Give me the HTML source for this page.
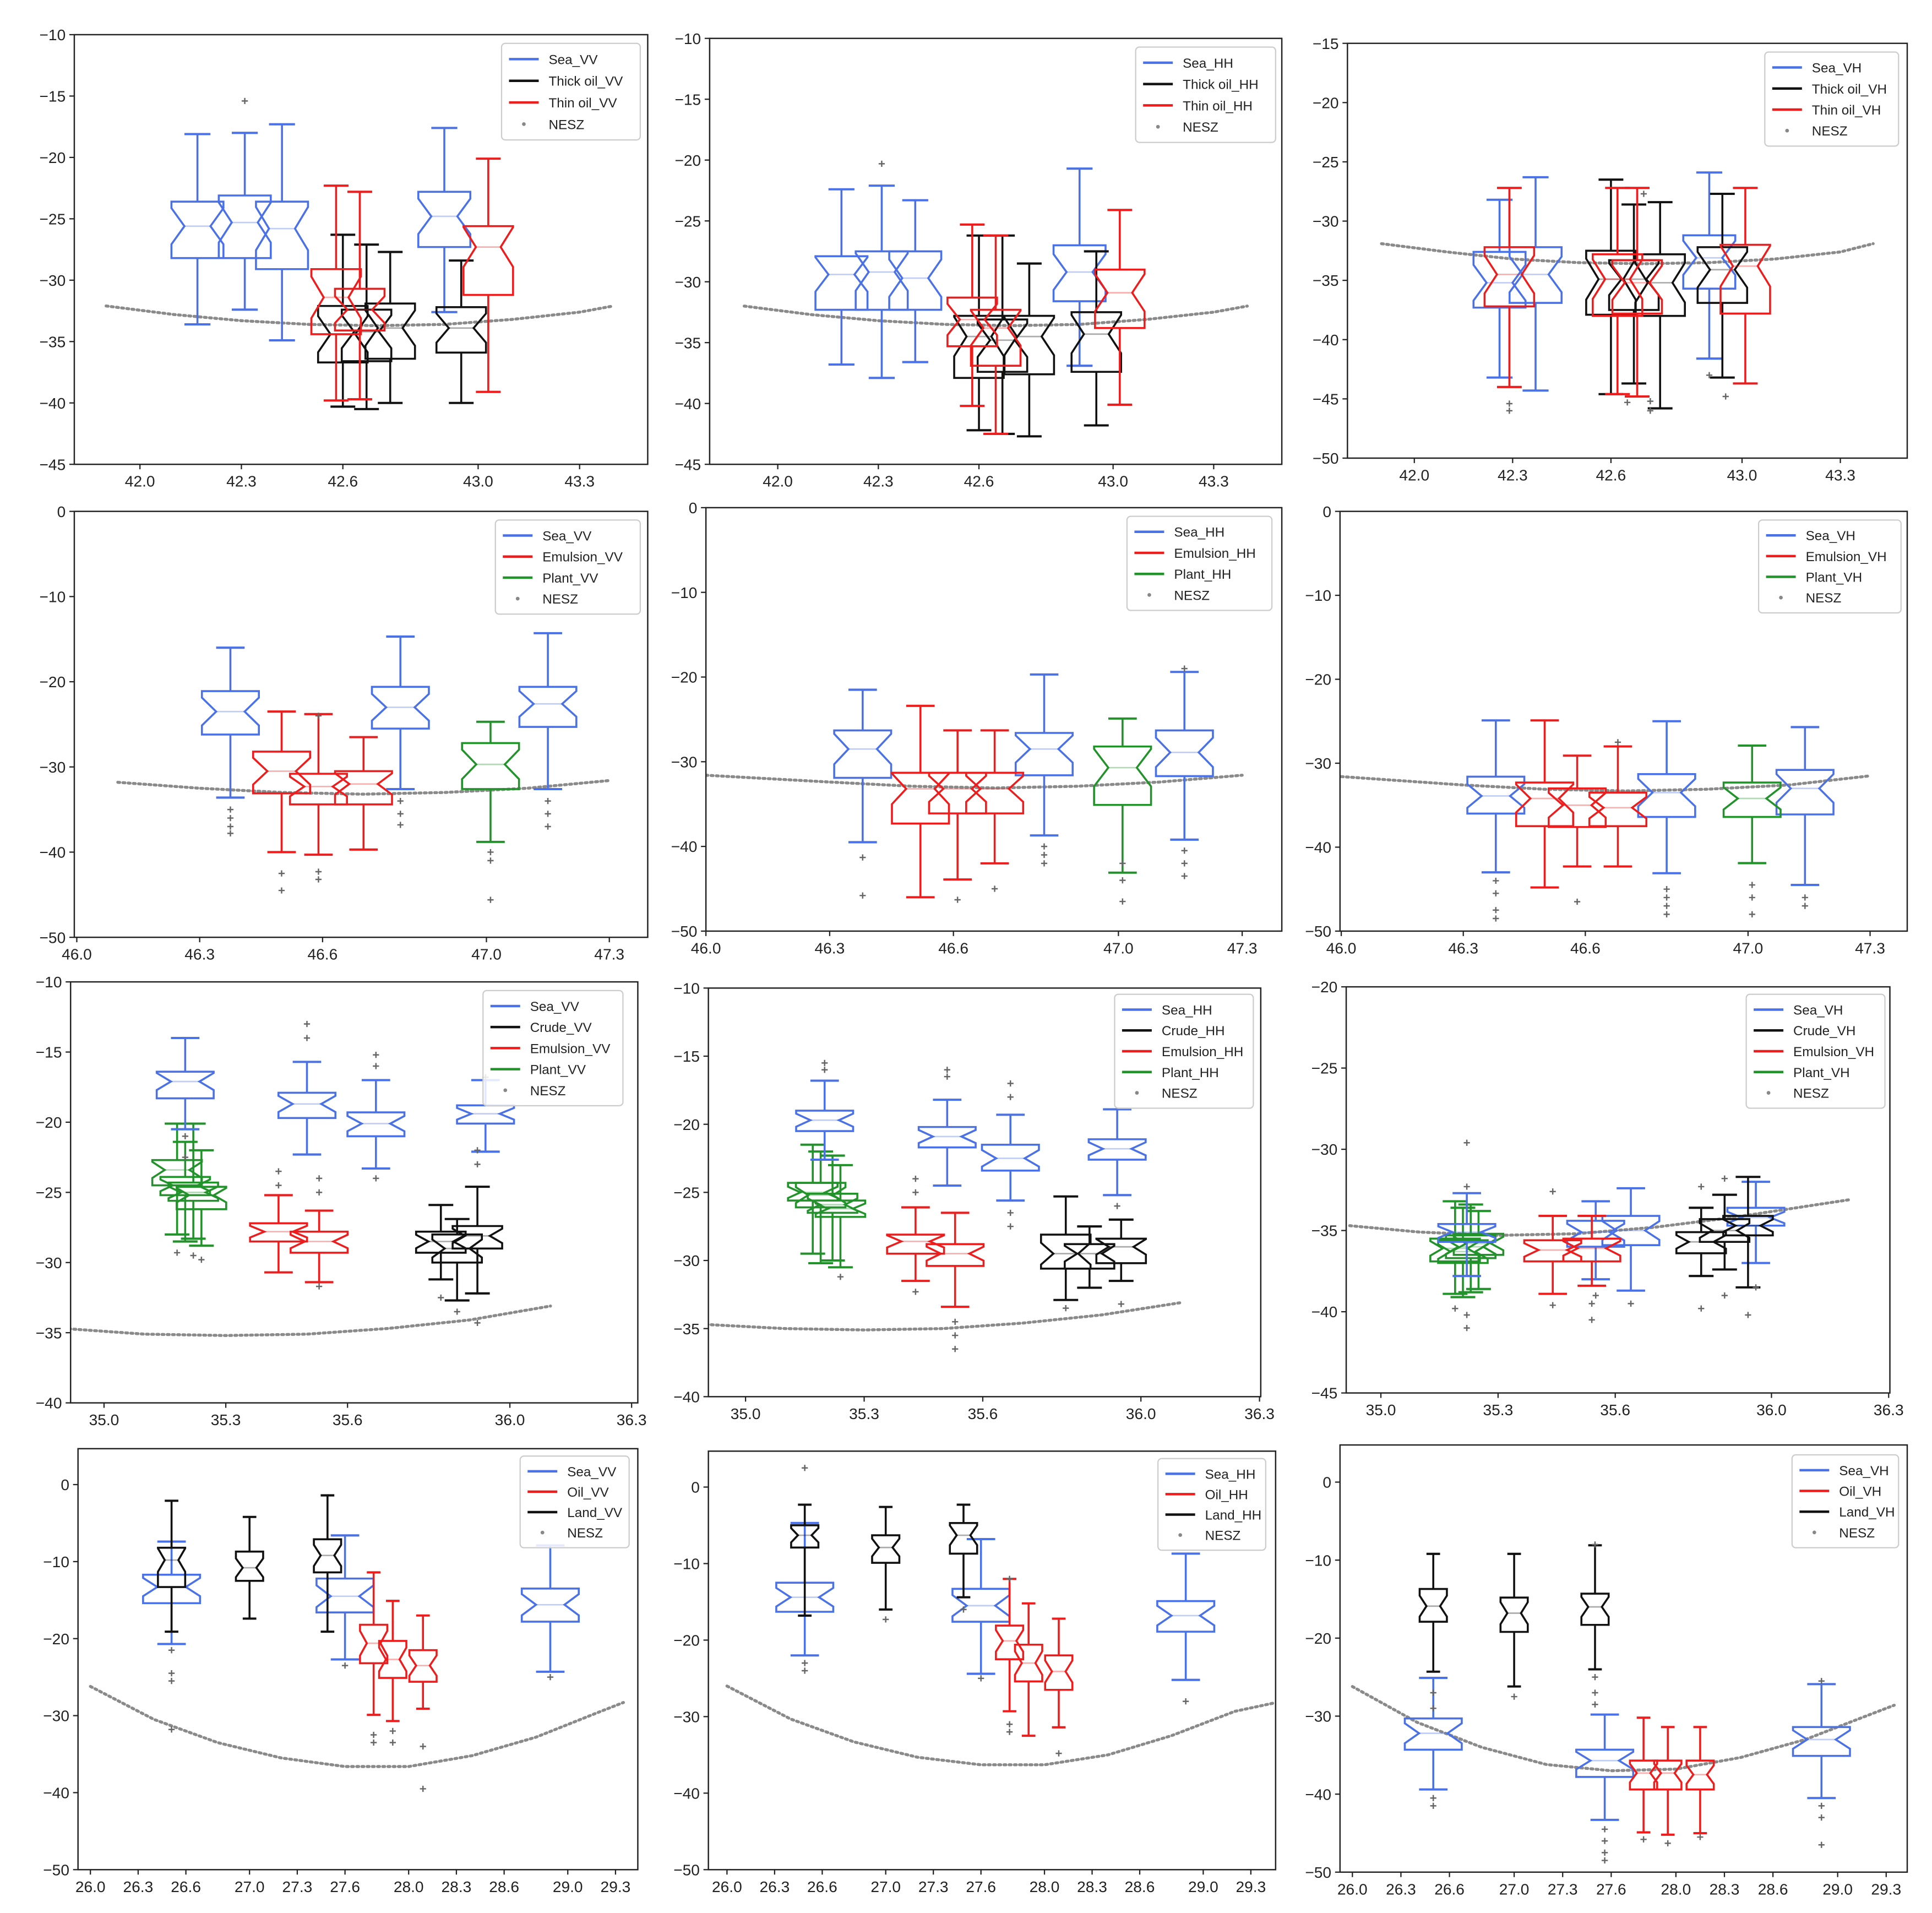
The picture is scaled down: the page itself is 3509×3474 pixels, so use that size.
<!DOCTYPE html>
<html><head><meta charset="utf-8"><title>Notched boxplots of backscatter by incidence angle</title>
<style>
html,body{margin:0;padding:0;background:#fff;}
svg{display:block;font-family:"Liberation Sans",sans-serif;}
</style></head>
<body>
<svg id="fig" xmlns="http://www.w3.org/2000/svg" width="3509" height="3474" viewBox="0 0 1560 1545" preserveAspectRatio="none">
<rect width="1560" height="1545" fill="#fff"/>
</svg>
<script>
// ---------- DATA (box stats: [x, whiskerLow, q1, median, q3, whiskerHigh]) ----------
const p1Sea=[[42.17,-33.6,-28.2,-25.6,-23.6,-18.1],[42.31,-32.4,-28.2,-25.3,-23.1,-18.0],[42.42,-34.9,-29.1,-25.8,-23.6,-17.3],[42.90,-32.6,-27.3,-24.8,-22.8,-17.6]];
const p1Thick=[[42.60,-40.3,-36.7,-34.4,-32.1,-26.3],[42.67,-40.5,-36.6,-34.2,-32.4,-27.1],[42.74,-40.0,-36.4,-33.9,-31.9,-27.7],[42.95,-40.0,-35.9,-33.9,-32.2,-28.4]];
const p1Thin=[[42.58,-39.8,-34.4,-31.4,-29.1,-22.3],[42.65,-39.7,-34.1,-32.4,-30.7,-22.8],[43.03,-39.1,-31.2,-27.3,-25.6,-20.1]];
const p1NeszX=[41.9,42.1,42.3,42.5,42.7,42.9,43.1,43.3,43.4];
const p1NeszY=[-32.1,-32.8,-33.3,-33.6,-33.7,-33.6,-33.2,-32.6,-32.1];
const p1Fliers=[[42.31,-15.4]];

const p2Sea=[[42.19,-36.8,-32.3,-29.4,-27.9,-22.4],[42.31,-37.9,-32.3,-29.2,-27.5,-22.1],[42.41,-36.6,-32.3,-29.7,-27.5,-23.3],[42.90,-36.9,-31.6,-29.2,-27.0,-20.7]];
const p2Thick=[[42.60,-42.2,-37.9,-34.5,-32.8,-26.2],[42.67,-42.5,-37.4,-34.8,-33.1,-26.2],[42.75,-42.7,-37.6,-34.5,-32.8,-28.5],[42.95,-41.8,-37.4,-34.3,-32.5,-27.5]];
const p2Thin=[[42.58,-40.2,-35.3,-33.1,-31.3,-25.3],[42.65,-42.5,-36.9,-33.8,-32.3,-26.2],[43.02,-40.1,-33.8,-30.9,-29.0,-24.1]];
const p2NeszX=[41.9,42.1,42.3,42.5,42.7,42.9,43.1,43.3,43.4];
const p2NeszY=[-32.0,-32.7,-33.2,-33.5,-33.6,-33.5,-33.1,-32.5,-32.0];
const p2Fliers=[[42.31,-20.3]];

const p3Sea=[[42.26,-43.2,-37.3,-35.2,-32.6,-28.2],[42.37,-44.3,-36.9,-34.5,-32.2,-26.3],[42.90,-41.6,-35.7,-33.1,-31.2,-25.9]];
const p3Thick=[[42.60,-44.6,-37.9,-34.9,-32.5,-26.5],[42.67,-43.7,-37.5,-34.9,-33.3,-28.6],[42.75,-45.8,-38.0,-35.2,-32.8,-28.4],[42.94,-43.2,-36.9,-34.1,-32.2,-27.7]];
const p3Thin=[[42.29,-44.0,-37.2,-34.5,-32.2,-27.2],[42.62,-44.6,-38.0,-34.9,-32.8,-27.2],[42.68,-44.8,-37.8,-35.2,-33.3,-27.2],[43.01,-43.7,-37.8,-33.8,-32.0,-27.2]];
const p3NeszX=[41.9,42.1,42.3,42.5,42.7,42.9,43.1,43.3,43.4];
const p3NeszY=[-31.9,-32.6,-33.2,-33.5,-33.6,-33.5,-33.2,-32.6,-31.9];
const p3Fliers=[[42.29,-45.4],[42.29,-46.0],[42.65,-45.3],[42.72,-46.0],[42.72,-45.2],[42.90,-43.0],[42.95,-44.8],[42.70,-27.7]];

const p4Sea=[[46.375,-33.6,-26.2,-23.5,-21.1,-16.0],[46.79,-32.6,-25.5,-23.0,-20.6,-14.7],[47.15,-32.6,-25.3,-22.6,-20.6,-14.3]];
const p4Emul=[[46.50,-40.0,-33.1,-30.5,-28.2,-23.5],[46.59,-40.3,-34.4,-32.3,-30.8,-23.8],[46.70,-39.7,-34.4,-32.0,-30.5,-26.5]];
const p4Plant=[[47.01,-38.8,-32.6,-29.7,-27.2,-24.7]];
const p4NeszX=[46.1,46.3,46.5,46.7,46.9,47.1,47.3];
const p4NeszY=[-31.8,-32.5,-33.0,-33.2,-33.0,-32.5,-31.6];
const p4Fliers=[[46.375,-35],[46.375,-36],[46.375,-37],[46.375,-37.8],[46.50,-42.5],[46.50,-44.5],[46.59,-42.3],[46.59,-43.2],[46.59,-24.0],[46.79,-34],[46.79,-35.5],[46.79,-36.8],[47.01,-40],[47.01,-41],[47.01,-45.6],[47.15,-34],[47.15,-35.5],[47.15,-37]];

const p5Sea=[[46.38,-39.5,-31.9,-28.5,-26.3,-21.5],[46.82,-38.7,-31.6,-28.5,-26.6,-19.7],[47.16,-39.2,-31.7,-28.9,-26.3,-19.4]];
const p5Emul=[[46.52,-46.0,-37.3,-33.2,-31.3,-23.4],[46.61,-43.9,-36.1,-33.2,-31.3,-26.3],[46.70,-42.0,-36.1,-33.2,-31.3,-26.3]];
const p5Plant=[[47.01,-43.1,-35.1,-30.7,-28.2,-24.9]];
const p5NeszX=[46.0,46.3,46.5,46.7,46.9,47.1,47.3];
const p5NeszY=[-31.6,-32.4,-32.9,-33.1,-32.9,-32.4,-31.6];
const p5Fliers=[[46.38,-41.3],[46.38,-45.8],[46.61,-46.3],[46.70,-45],[46.82,-40],[46.82,-41],[46.82,-42],[47.01,-42],[47.01,-44],[47.01,-46.5],[47.16,-40.5],[47.16,-42],[47.16,-43.5],[47.16,-19]];

const p6Sea=[[46.38,-43.0,-36.0,-33.9,-31.6,-24.9],[46.80,-43.1,-36.4,-33.5,-31.3,-25.0],[47.14,-44.5,-36.1,-33.0,-30.8,-25.7]];
const p6Emul=[[46.50,-44.8,-37.5,-34.2,-32.3,-24.9],[46.58,-42.3,-37.6,-35.0,-33.0,-29.1],[46.68,-42.3,-37.5,-35.3,-33.5,-28.0]];
const p6Plant=[[47.01,-41.9,-36.4,-34.2,-32.3,-27.9]];
const p6NeszX=[46.0,46.3,46.5,46.7,46.9,47.1,47.3];
const p6NeszY=[-31.6,-32.6,-33.1,-33.3,-33.1,-32.6,-31.5];
const p6Fliers=[[46.38,-44],[46.38,-45.5],[46.38,-47.5],[46.38,-48.5],[46.58,-46.5],[46.80,-45],[46.80,-46],[46.80,-47],[46.80,-48],[47.01,-44.5],[47.01,-46],[47.01,-48],[47.14,-46],[47.14,-47],[46.68,-27.5]];

const p7Sea=[[35.20,-20.5,-18.3,-17.1,-16.4,-14.0],[35.50,-22.3,-19.7,-18.7,-17.9,-15.7],[35.67,-23.3,-21.0,-20.1,-19.3,-17.0],[35.94,-22.1,-20.1,-19.4,-18.8,-17.0]];
const p7Crude=[[35.83,-31.2,-29.3,-28.5,-27.8,-25.9],[35.87,-32.7,-30.0,-29.0,-28.0,-26.9],[35.92,-32.2,-29.0,-28.1,-27.4,-24.6]];
const p7Emul=[[35.43,-30.7,-28.5,-27.8,-27.2,-25.2],[35.53,-31.4,-29.3,-28.5,-27.8,-26.3]];
const p7Plant=[[35.18,-28.0,-24.5,-23.4,-22.7,-20.1],[35.20,-28.5,-25.2,-24.5,-23.9,-21.4],[35.22,-28.3,-25.6,-25.0,-24.3,-20.1],[35.24,-28.8,-26.2,-25.2,-24.6,-22.0]];
const p7NeszX=[34.9,35.1,35.3,35.5,35.7,35.9,36.1];
const p7NeszY=[-34.7,-35.1,-35.2,-35.1,-34.7,-34.1,-33.1];
const p7Fliers=[[35.20,-21],[35.20,-22.5],[35.22,-29.5],[35.24,-29.8],[35.43,-23.5],[35.43,-24.5],[35.50,-13],[35.50,-14],[35.53,-24],[35.53,-25],[35.53,-31.7],[35.67,-15.2],[35.67,-16],[35.67,-24],[35.83,-32.5],[35.87,-33.5],[35.92,-22],[35.92,-23],[35.92,-34.3],[35.94,-16.8],[35.18,-29.3]];

const p8Sea=[[35.20,-22.6,-20.5,-19.7,-19.0,-16.8],[35.51,-24.5,-21.7,-20.9,-20.2,-18.2],[35.67,-25.6,-23.4,-22.5,-21.5,-19.3],[35.94,-25.2,-22.6,-21.8,-21.1,-18.9]];
const p8Crude=[[35.81,-32.9,-30.6,-29.5,-28.1,-25.3],[35.87,-32.0,-30.6,-29.5,-28.8,-27.5],[35.95,-31.5,-30.2,-29.0,-28.4,-27.0]];
const p8Emul=[[35.43,-31.5,-29.5,-28.6,-28.1,-26.1],[35.53,-33.4,-30.4,-29.5,-28.8,-26.5]];
const p8Plant=[[35.17,-29.5,-25.6,-25.0,-24.3,-21.5],[35.19,-30.2,-26.1,-25.2,-24.3,-22.0],[35.22,-30.0,-26.5,-25.9,-25.1,-22.3],[35.24,-30.5,-26.8,-26.2,-25.6,-23.0]];
const p8NeszX=[34.9,35.1,35.3,35.5,35.7,35.9,36.1];
const p8NeszY=[-34.7,-35.0,-35.1,-35.0,-34.6,-34.0,-33.1];
const p8Fliers=[[35.20,-16],[35.20,-15.5],[35.24,-31.2],[35.43,-24],[35.43,-25],[35.43,-32.3],[35.51,-16],[35.51,-16.5],[35.53,-34.5],[35.53,-35.5],[35.53,-36.5],[35.67,-17],[35.67,-18],[35.67,-26.5],[35.67,-27.5],[35.94,-26],[35.81,-33.5],[35.95,-33.2]];

const p9Sea=[[35.22,-37.8,-35.7,-35.1,-34.6,-32.7],[35.55,-38.0,-36.0,-35.1,-34.4,-33.2],[35.64,-38.7,-35.9,-35.0,-34.1,-32.4],[35.96,-37.0,-34.7,-34.2,-33.6,-32.0]];
const p9Crude=[[35.82,-37.8,-36.4,-35.7,-35.1,-33.6],[35.88,-37.4,-35.7,-35.0,-34.3,-32.8],[35.94,-38.5,-35.3,-34.7,-34.1,-31.7]];
const p9Emul=[[35.44,-38.9,-36.9,-36.2,-35.6,-34.1],[35.54,-38.4,-36.9,-36.1,-35.5,-34.1]];
const p9Plant=[[35.19,-38.9,-36.9,-36.1,-35.5,-33.2],[35.21,-39.1,-37.0,-36.3,-35.6,-33.6],[35.23,-38.8,-36.7,-36.0,-35.3,-33.4],[35.25,-38.6,-36.5,-35.8,-35.2,-33.8]];
const p9NeszX=[34.92,35.1,35.3,35.5,35.7,35.9,36.2];
const p9NeszY=[-34.7,-35.1,-35.3,-35.2,-34.8,-34.2,-33.1];
const p9Fliers=[[35.22,-29.6],[35.22,-32.3],[35.22,-40.2],[35.22,-41],[35.19,-39.8],[35.44,-32.6],[35.44,-39.6],[35.54,-39.5],[35.54,-40.5],[35.55,-39],[35.64,-39.5],[35.82,-32.3],[35.82,-39.8],[35.88,-31.8],[35.88,-39],[35.94,-40.2],[35.96,-38.5]];

const p10Sea=[[26.51,-20.7,-15.4,-13.3,-11.7,-7.4],[27.60,-22.7,-16.6,-14.5,-12.2,-6.6],[28.89,-24.3,-17.8,-15.6,-13.5,-7.9]];
const p10Oil=[[27.78,-29.9,-23.2,-20.6,-18.2,-11.4],[27.90,-30.7,-25.1,-22.7,-20.3,-15.1],[28.09,-29.1,-25.6,-23.5,-21.5,-17.0]];
const p10Land=[[26.51,-19.1,-13.3,-9.8,-8.2,-2.1],[27.00,-17.4,-12.5,-10.8,-8.7,-4.2],[27.49,-19.1,-11.4,-9.2,-7.1,-1.4]];
const p10NeszX=[26.0,26.4,26.8,27.2,27.6,28.0,28.4,28.8,29.2,29.35];
const p10NeszY=[-26.2,-30.5,-33.5,-35.5,-36.6,-36.6,-35.2,-32.8,-29.5,-28.3];
const p10Fliers=[[26.51,-21.5],[26.51,-24.5],[26.51,-25.5],[26.51,-31.8],[27.60,-23.5],[27.78,-32.5],[27.78,-33.5],[27.90,-32],[27.90,-33.5],[28.09,-34],[28.09,-39.5],[28.89,-25]];

const p11Sea=[[26.49,-22.0,-16.3,-14.4,-12.5,-4.7],[27.60,-24.4,-17.6,-15.5,-13.3,-6.8],[28.89,-25.2,-18.9,-16.8,-14.9,-8.7]];
const p11Oil=[[27.78,-29.3,-22.5,-20.1,-18.1,-12.0],[27.90,-32.5,-25.4,-23.0,-20.6,-15.2],[28.09,-31.4,-26.5,-24.1,-22.0,-17.2]];
const p11Land=[[26.49,-16.8,-7.9,-6.3,-5.0,-2.3],[27.00,-16.0,-9.9,-7.9,-6.3,-2.6],[27.49,-14.4,-8.7,-6.3,-4.7,-2.3]];
const p11NeszX=[26.0,26.4,26.8,27.2,27.6,28.0,28.4,28.8,29.2,29.45];
const p11NeszY=[-26.0,-30.3,-33.3,-35.3,-36.3,-36.3,-35.0,-32.5,-29.3,-28.2];
const p11Fliers=[[26.49,2.5],[26.49,-23],[26.49,-24],[27.00,-17.3],[27.49,-16],[27.60,-25],[27.78,-12],[27.78,-31],[27.78,-32],[28.09,-34.8],[28.89,-28]];

const p12Sea=[[26.50,-39.4,-34.3,-32.2,-30.3,-25.1],[27.56,-43.3,-37.8,-35.7,-34.3,-29.8],[28.90,-40.5,-35.1,-33.0,-31.4,-25.9]];
const p12Oil=[[27.80,-44.9,-39.4,-37.3,-35.7,-30.2],[27.95,-45.2,-39.4,-37.3,-35.7,-31.4],[28.15,-45.0,-39.4,-37.5,-35.7,-31.4]];
const p12Land=[[26.50,-24.3,-17.9,-15.9,-13.7,-9.2],[27.00,-26.2,-19.2,-16.8,-14.8,-9.2],[27.50,-24.0,-18.3,-16.0,-14.3,-8.1]];
const p12NeszX=[26.0,26.4,26.8,27.2,27.6,28.0,28.4,28.8,29.2,29.35];
const p12NeszY=[-26.2,-30.8,-34.0,-36.2,-37.0,-36.8,-35.3,-33.0,-29.8,-28.6];
const p12Fliers=[[26.50,-27],[26.50,-29],[26.50,-40.5],[26.50,-41.5],[27.00,-27.5],[27.50,-8],[27.50,-25],[27.50,-27],[27.50,-28.5],[27.56,-44.5],[27.56,-46],[27.56,-47.5],[27.56,-48.5],[27.80,-45.8],[27.95,-46.3],[28.15,-45.5],[28.90,-25.5],[28.90,-41.5],[28.90,-43],[28.90,-46.5]];

// tick labels
const xTicksRow1=[42.0,42.3,42.6,43.0,43.3];
const xTicksRow2=[46.0,46.3,46.6,47.0,47.3];
const xTicksRow3=[35.0,35.3,35.6,36.0,36.3];
const xTicksRow4=[26.0,26.3,26.6,27.0,27.3,27.6,28.0,28.3,28.6,29.0,29.3];
const yTicksA=[-10,-15,-20,-25,-30,-35,-40,-45];
const yTicksB=[-15,-20,-25,-30,-35,-40,-45,-50];
const yTicksC=[0,-10,-20,-30,-40,-50];
const yTicksD=[-10,-15,-20,-25,-30,-35,-40];
const yTicksE=[-20,-25,-30,-35,-40,-45];

// ---------- STYLE ----------
const COL={B:'#4a72e6',K:'#111111',R:'#ee1d1d',G:'#22922a'};
const NS='http://www.w3.org/2000/svg';
const svg=document.getElementById('fig');
function mk(tag,attrs,parent){const e=document.createElementNS(NS,tag);for(const k in attrs)e.setAttribute(k,attrs[k]);(parent||svg).appendChild(e);return e;}

const panels=[
 {id:'p1',f:[60,28,523,375],xm:[42.0,113,43.3,468],ym:[-10,28,-45,375],xt:xTicksRow1,yt:yTicksA,
  series:[[p1Sea,'B',42],[p1Thick,'K',40],[p1Thin,'R',40]],nx:p1NeszX,ny:p1NeszY,fl:p1Fliers,
  lg:[405,35,112,78],labels:['Sea_VV','Thick oil_VV','Thin oil_VV','NESZ'],lc:['B','K','R']},
 {id:'p2',f:[573,31,1035,375],xm:[42.0,628,43.3,980],ym:[-10,31,-45,375],xt:xTicksRow1,yt:yTicksA,
  series:[[p2Sea,'B',42],[p2Thick,'K',40],[p2Thin,'R',40]],nx:p2NeszX,ny:p2NeszY,fl:p2Fliers,
  lg:[917,38,113,77],labels:['Sea_HH','Thick oil_HH','Thin oil_HH','NESZ'],lc:['B','K','R']},
 {id:'p3',f:[1088,35,1540,370],xm:[42.0,1142,43.3,1486],ym:[-15,35,-50,370],xt:xTicksRow1,yt:yTicksB,
  series:[[p3Sea,'B',42],[p3Thick,'K',40],[p3Thin,'R',40]],nx:p3NeszX,ny:p3NeszY,fl:p3Fliers,
  lg:[1425,42,108,76],labels:['Sea_VH','Thick oil_VH','Thin oil_VH','NESZ'],lc:['B','K','R']},
 {id:'p4',f:[60,413,523,757],xm:[46.0,62,47.3,492],ym:[0,413,-50,757],xt:xTicksRow2,yt:yTicksC,
  series:[[p4Sea,'B',46],[p4Emul,'R',46],[p4Plant,'G',46]],nx:p4NeszX,ny:p4NeszY,fl:p4Fliers,
  lg:[400,420,117,76],labels:['Sea_VV','Emulsion_VV','Plant_VV','NESZ'],lc:['B','R','G']},
 {id:'p5',f:[570,410,1035,752],xm:[46.0,570,47.3,1003],ym:[0,410,-50,752],xt:xTicksRow2,yt:yTicksC,
  series:[[p5Sea,'B',46],[p5Emul,'R',46],[p5Plant,'G',46]],nx:p5NeszX,ny:p5NeszY,fl:p5Fliers,
  lg:[910,417,117,76],labels:['Sea_HH','Emulsion_HH','Plant_HH','NESZ'],lc:['B','R','G']},
 {id:'p6',f:[1082,413,1540,752],xm:[46.0,1083,47.3,1510],ym:[0,413,-50,752],xt:xTicksRow2,yt:yTicksC,
  series:[[p6Sea,'B',46],[p6Emul,'R',46],[p6Plant,'G',46]],nx:p6NeszX,ny:p6NeszY,fl:p6Fliers,
  lg:[1420,420,115,75],labels:['Sea_VH','Emulsion_VH','Plant_VH','NESZ'],lc:['B','R','G']},
 {id:'p7',f:[57,793,515,1133],xm:[35.0,84,36.3,510],ym:[-10,793,-40,1133],xt:xTicksRow3,yt:yTicksD,
  series:[[p7Plant,'G',40],[p7Sea,'B',46],[p7Emul,'R',46],[p7Crude,'K',40]],nx:p7NeszX,ny:p7NeszY,fl:p7Fliers,
  lg:[390,800,113,93],labels:['Sea_VV','Crude_VV','Emulsion_VV','Plant_VV','NESZ'],lc:['B','K','R','G']},
 {id:'p8',f:[572,798,1018,1128],xm:[35.0,602,36.3,1017],ym:[-10,798,-40,1128],xt:xTicksRow3,yt:yTicksD,
  series:[[p8Plant,'G',40],[p8Sea,'B',46],[p8Emul,'R',46],[p8Crude,'K',40]],nx:p8NeszX,ny:p8NeszY,fl:p8Fliers,
  lg:[900,803,112,92],labels:['Sea_HH','Crude_HH','Emulsion_HH','Plant_HH','NESZ'],lc:['B','K','R','G']},
 {id:'p9',f:[1087,797,1526,1125],xm:[35.0,1115,36.3,1525],ym:[-20,797,-45,1125],xt:xTicksRow3,yt:yTicksE,
  series:[[p9Plant,'G',40],[p9Sea,'B',46],[p9Emul,'R',46],[p9Crude,'K',40]],nx:p9NeszX,ny:p9NeszY,fl:p9Fliers,
  lg:[1410,803,112,92],labels:['Sea_VH','Crude_VH','Emulsion_VH','Plant_VH','NESZ'],lc:['B','K','R','G']},
 {id:'p10',f:[63,1170,515,1510],xm:[26.0,73,29.3,497],ym:[0,1199,-50,1510],xt:xTicksRow4,yt:yTicksC,
  series:[[p10Sea,'B',46],[p10Land,'K',22],[p10Oil,'R',22]],nx:p10NeszX,ny:p10NeszY,fl:p10Fliers,
  lg:[420,1176,88,74],labels:['Sea_VV','Oil_VV','Land_VV','NESZ'],lc:['B','R','K']},
 {id:'p11',f:[572,1172,1030,1510],xm:[26.0,587,29.3,1010],ym:[0,1201,-50,1510],xt:xTicksRow4,yt:yTicksC,
  series:[[p11Sea,'B',46],[p11Land,'K',22],[p11Oil,'R',22]],nx:p11NeszX,ny:p11NeszY,fl:p11Fliers,
  lg:[935,1178,87,74],labels:['Sea_HH','Oil_HH','Land_HH','NESZ'],lc:['B','R','K']},
 {id:'p12',f:[1082,1167,1540,1512],xm:[26.0,1092,29.3,1523],ym:[0,1197,-50,1512],xt:xTicksRow4,yt:yTicksC,
  series:[[p12Sea,'B',46],[p12Land,'K',22],[p12Oil,'R',22]],nx:p12NeszX,ny:p12NeszY,fl:p12Fliers,
  lg:[1447,1175,86,75],labels:['Sea_VH','Oil_VH','Land_VH','NESZ'],lc:['B','R','K']}
];

function fmt(v){return (Math.round(v*10)/10).toFixed(v===0?0:1);}

panels.forEach(P=>{
  const g=mk('g',{});
  
  
  const sx=v=>P.xm[1]+(v-P.xm[0])*(P.xm[3]-P.xm[1])/(P.xm[2]-P.xm[0]);
  const sy=v=>P.ym[1]+(v-P.ym[0])*(P.ym[3]-P.ym[1])/(P.ym[2]-P.ym[0]);
  const [x0,y0,x1,y1]=P.f;
  const clipId='clip-'+P.id;
  const cp=mk('clipPath',{id:clipId},g);
  mk('rect',{x:x0,y:y0,width:x1-x0,height:y1-y0},cp);
  // NESZ dotted line
  let pts=P.nx.map((x,i)=>sx(x).toFixed(1)+','+sy(P.ny[i]).toFixed(1)).join(' ');
  const nl=mk('polyline',{points:pts,fill:'none',stroke:'#8a8a8a','stroke-width':2.4,'stroke-dasharray':'1.6 2.6','stroke-linecap':'round','clip-path':'url(#'+clipId+')'},g);
  
  
  // boxes
  P.series.forEach(([arr,c,wd])=>{
    const col=COL[c];
    arr.forEach(b=>{
      const [x,lo,q1,md,q3,hi]=b;
      const cx=sx(x),w=wd/2,nw=w*0.5;
      const n=Math.min(0.32*(q3-q1),(q3-md)*0.95,(md-q1)*0.95);
      const top=sy(q3),bot=sy(q1),m=sy(md),nt=sy(md+n),nb=sy(md-n);
      const bg=mk('g',{'clip-path':'url(#'+clipId+')'},g);
      
      
      mk('line',{x1:cx,y1:top,x2:cx,y2:sy(hi),stroke:col,'stroke-width':1.6},bg);
      mk('line',{x1:cx,y1:bot,x2:cx,y2:sy(lo),stroke:col,'stroke-width':1.6},bg);
      mk('line',{x1:cx-w/2,y1:sy(hi),x2:cx+w/2,y2:sy(hi),stroke:col,'stroke-width':1.8},bg);
      mk('line',{x1:cx-w/2,y1:sy(lo),x2:cx+w/2,y2:sy(lo),stroke:col,'stroke-width':1.8},bg);
      const d=`M${cx-w},${top}H${cx+w}V${nt}L${cx+nw},${m}L${cx+w},${nb}V${bot}H${cx-w}V${nb}L${cx-nw},${m}L${cx-w},${nt}Z`;
      mk('path',{d:d,fill:'none',stroke:col,'stroke-width':1.6},bg);
      mk('line',{x1:cx-nw,y1:m,x2:cx+nw,y2:m,stroke:col,'stroke-width':1.2,'stroke-opacity':0.35},bg);
    });
  });
  // fliers
  P.fl.forEach(f=>{
    const fx=sx(f[0]),fy=sy(f[1]);
    const fp=mk('path',{d:`M${fx-2.5},${fy}H${fx+2.5}M${fx},${fy-2.5}V${fy+2.5}`,stroke:'#666','stroke-width':1.1,'clip-path':'url(#'+clipId+')'},g);
    
    
  });
  // frame
  const fr=mk('rect',{x:x0,y:y0,width:x1-x0,height:y1-y0,fill:'none',stroke:'#222','stroke-width':1.1},g);
  
  
  // x ticks
  P.xt.forEach(v=>{
    const px=sx(v);
    mk('line',{x1:px,y1:y1,x2:px,y2:y1+4,stroke:'#222','stroke-width':1},g);
    const t=mk('text',{x:px,y:y1+18,'text-anchor':'middle','font-size':12.5,fill:'#222'},g);
    t.textContent=v.toFixed(1);
    
    
  });
  // y ticks
  P.yt.forEach(v=>{
    const py=sy(v);
    mk('line',{x1:x0-4,y1:py,x2:x0,y2:py,stroke:'#222','stroke-width':1},g);
    const t=mk('text',{x:x0-7,y:py+4.5,'text-anchor':'end','font-size':12.5,fill:'#222'},g);
    t.textContent=v===0?'0':String(v).replace('-','\u2212');
    
    
  });
  // legend
  const [lx,ly,lw,lh]=P.lg;
  const lg=mk('g',{},g);
  
  
  mk('rect',{x:lx,y:ly,width:lw,height:lh,rx:3,fill:'#fff','fill-opacity':0.85,stroke:'#cccccc','stroke-width':1},lg);
  const step=(lh-8)/P.labels.length;
  P.labels.forEach((lab,i)=>{
    const cy=ly+4+step*(i+0.5);
    const e=mk('g',{},lg);
    
    
    if(i<P.lc.length){
      mk('line',{x1:lx+6,y1:cy,x2:lx+30,y2:cy,stroke:COL[P.lc[i]],'stroke-width':2},e);
    } else {
      mk('circle',{cx:lx+18,cy:cy,r:1.5,fill:'#888'},e);
    }
    const t=mk('text',{x:lx+38,y:cy+4,'font-size':10.8,fill:'#222'},e);
    t.textContent=lab;
  });
});
</script>
</body></html>
